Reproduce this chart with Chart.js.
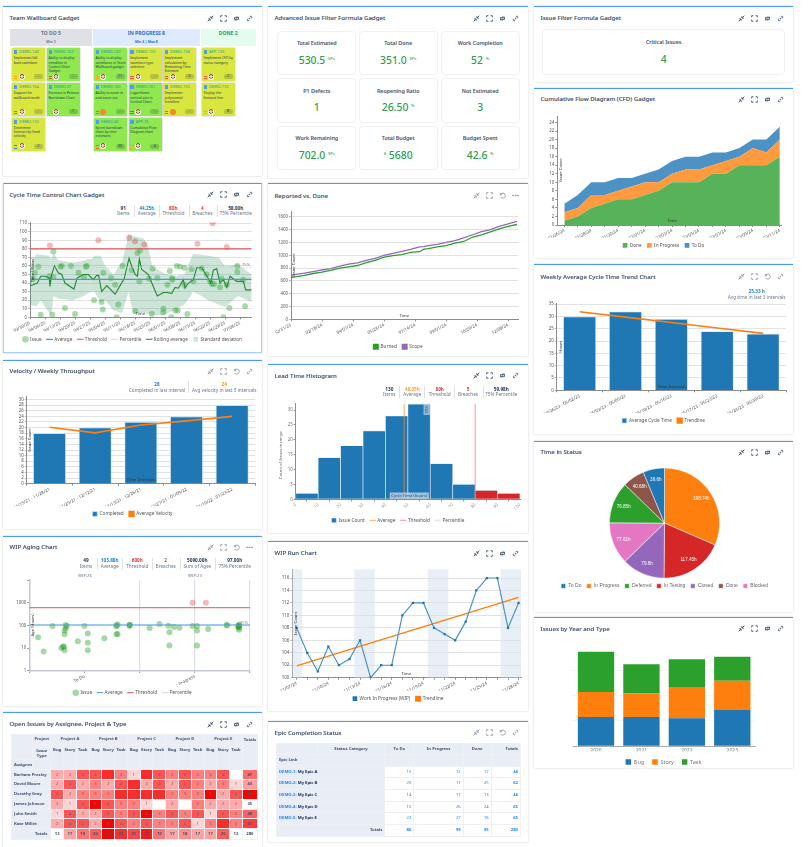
<!DOCTYPE html>
<html>
<head>
<meta charset="utf-8">
<title>Dashboard</title>
<script src="https://cdn.jsdelivr.net/npm/chart.js@4/dist/chart.umd.min.js"></script>
<style>
  html, body { margin: 0; padding: 0; background: #fff; }
  body { position: relative; width: 811px; height: 847px; overflow: hidden; font-family: "Noto Sans", sans-serif; color: #344563; }
  .card { position: absolute; box-sizing: border-box; background: #fff; border-top: 1.5px solid #4c9aff; box-shadow: 0 0 2px rgba(9,30,66,.22); }
  .card.selected { border: 1.5px solid #a9cdfb; border-top: 1.5px solid #4c9aff; }
  .title { position: absolute; font-size: 6.1px; font-weight: 500; line-height: 8px; white-space: nowrap; color: #42526e; -webkit-text-stroke: .12px #42526e; }
  .icons { position: absolute; display: flex; }
  .icons svg { width: 7px; height: 7px; margin-left: 6px; }
  .abs { position: absolute; white-space: nowrap; transform: translateX(-50%); line-height: 1; }
  .sep { position: absolute; width: .6px; background: #dfe1e6; }
  canvas { position: absolute; }
  .tile { position: absolute; box-sizing: border-box; border: .7px solid #f0f1f4; border-radius: 4px; text-align: center; }
  .tile b { position: absolute; left: 0; right: 0; font-size: 5.4px; font-weight: 500; color: #42526e; line-height: 1; -webkit-text-stroke: .1px #42526e; }
  .tile i { position: absolute; left: 0; right: 0; font-style: normal; font-weight: 500; font-size: 10.4px; color: #2f9e50; line-height: 1; }
  .tile sup { font-size: 4.2px; vertical-align: 4px; line-height: 0; }
  .colhead { position: absolute; text-align: center; font-weight: 700; }
  .issue { position: absolute; box-shadow: 0 0 1.5px rgba(0,0,0,.35); width: 33px; height: 32.7px; overflow: hidden; }
  .issue .key { position: absolute; left: 7px; top: 2.2px; font-size: 3.9px; line-height: 4.4px; color: #1f9aa8; }
  .issue .sq { position: absolute; left: 1.5px; top: 2.2px; width: 3.5px; height: 3.5px; background: #4c9aff; border-radius: .5px; }
  .issue .txt { position: absolute; left: 1.5px; right: 1px; top: 8px; font-size: 3.4px; line-height: 4.2px; color: #253858; }
  .issue .pr { position: absolute; left: 1.5px; top: 27.4px; width: 3.5px; height: 1.2px; border-top: .6px solid; border-bottom: .6px solid; }
  .issue .av { position: absolute; left: 6.4px; top: 25.4px; width: 6px; height: 6px; border-radius: 50%; background: radial-gradient(circle at 50% 38%, #f2c7ae 0 1.5px, #7a4a3a 1.7px 2.2px, #f7f7f7 2.4px); }
  .issue .av.p { background: #f08a24; }
  .issue .est { position: absolute; right: 2.5px; top: 26px; width: 9px; height: 4.8px; border-radius: 2px; background: rgba(9,30,66,.18); font-size: 3.6px; line-height: 4.8px; text-align: center; color: #253858; }
  table { position: absolute; border-collapse: collapse; table-layout: fixed; font-size: 4.2px; color: #42526e; line-height: 1; }
  td, th { border: .5px solid #eef0f5; padding: 0; overflow: hidden; }
  th { background: #e9edf5; font-weight: 700; }
</style>
</head>
<body>
<script>
// ---- data ----
const cycleDays = [1.5,2.3,3.9,5,9,9.3,10.4,10.9,10.9,14.3,14.8,16.3,19.1,21,22.6,25.2,26.1,26.4,29.9,31.9,33.4,33.9,34.2,37.8,39.7,40.4,41.2,43.1,46.2,47.4,49,49.1,50.1,51,51.3,53.3,55.5,56.8,57.2,59.4,62.2,62.2,64.1,65.2,65.9,66.3,66.4,67.8,68.4,68.9,70,72,72,73.4,75.4,76.2,78.1,80.1,82.4,84,84.8,85.2,85.8,88.6,89.4,90.2,91.8,91.8,93,96.7,96.7,99.5,100.3];
const cycleHours = [45,52,59,3,48,84,3,77,47,59,60,11,60,4,52,47,59,60,20,90,18,9,52,46,38,0,15,60,93,55,89,7,75,42,78,85,45,4,57,46,10,6,38,54,0,46,44,8,60,8,59,58,38,4,56,42,86,57,50,42,39,110,39,35,45,0,82,38,11,60,53,44,13];
const rollingDays = [0,1.5,3.4,5,7,9,9.3,10.1,11.4,13.2,14.8,16.3,20.5,22,24.9,27.2,29.5,31.1,32,33.4,35.8,39.7,42,43.9,46.2,47.4,49,50.1,51,52.1,55.2,56.8,59.4,62.2,63.8,66.1,67.7,69.2,71.5,72.3,73.9,76.2,77.8,80.1,83.2,84.3,85.5,87.1,88.6,90.2,91.8,93.3,96.4,99.5,100.6,103.4];
const rollingHours = [37,38,40,48,48,46,36,50,60,52,50,40,33,46,50,50,44,49,49,30,37,27,37,45,69,60,50,48,68,56,50,40,25,29,29,28,35,34,44,34,40,44,58,58,45,40,55,57,40,44,35,48,42,42,32,32];
const bandDays = [0,3,5,9,10,11,13,20,25,27,29,30,33,35,39,43,46,48,53,55,57,62,67,72,75,76,80,83,88,91,97,103.4];
const bandUpper = [60,74,73,72,68,75,67,64,66,68,68,72,72,60,50,65,98,95,92,84,60,52,48,50,68,74,73,72,70,60,62,50];
const bandLower = [14,13,20,5,3,25,22,20,25,28,30,30,17,20,8,5,30,5,5,4,3,2,8,15,25,30,25,20,15,12,25,18];
const cycleTicks = ['03/30/25','04/06/25','04/13/25','04/20/25','04/27/25','05/04/25','05/11/25','05/18/25','05/25/25','06/01/25','06/08/25','06/15/25','06/22/25','06/29/25','07/06/25'];
const cycleAverage = 44.25, cycleThreshold = 80, cyclePercentile = 58;

const velocityLabels = ['11/15/21 - 11/28/21','11/29/21 - 12/12/21','12/13/21 - 12/26/21','12/27/21 - 01/09/22','01/10/22 - 01/23/22'];
const velocityDone = [18,20,22,24,28];
const velocityAvg = [20.1,18.1,20.9,22.4,24];

const agingPos = [.08,.13,.21,.29,.31,.31,.32,.33,.34,.33,.32,.32,.44,.5,.53,.53,.53,.68,.79,.8,.79,.8,.79,.91,.91,.91,1.09,1.18,1.26,1.27,1.27,1.31,1.36,1.48,1.52,1.52,1.52,1.48,1.6,1.62,1.79,1.79,1.89,1.9,1.9,1.9,1.9,1.9,1.9];
const agingHours = [30,7,93,10,11,12,8,103,93,74,58,40,20,93,44,17,8,27,41,42,100,110,92,103,93,105,76,114,95,49,13,85,79,93,93,60,13,1000,1000,69,105,98,90,95,85,64,105,100,78];
const agingTicks = [1,10,100,1000,10000];
const agingAverage = 103.88, agingThreshold = 600, agingPercentile = 97;

const reportedWeeks = [0,3,5,7,9,11,13,15,17,19,21,23,25,27,29,30,31,33,35,37,39,41,43,45,47,49,51];
const reportedBurned = [650,685,715,735,765,800,820,840,885,920,970,995,1010,1045,1055,1095,1105,1130,1150,1190,1215,1285,1320,1365,1410,1450,1480];
const reportedScope = [690,720,745,770,790,830,860,880,920,950,1000,1030,1060,1090,1130,1135,1150,1170,1200,1230,1270,1320,1370,1400,1450,1490,1530];
const reportedTicks = ['12/31/23','02/18/24','04/07/24','05/26/24','07/14/24','09/01/24','10/20/24','12/08/24'];

const leadBins = [2,14,18,23,28,32,12,5,3,2];
const leadBinNames = ['0-10','10-20','20-30','30-40','40-50','50-60','60-70','70-80','80-90','90-100'];
const leadAverage = 48.35, leadThreshold = 80, leadPercentile = 59.98;

const runCounts = [108,104,101,105,102,103,106,100,102,102,110,112,112,108,107,106,109,114,116,116,108,112];
const runTrend = [101.9,112.9];
const runTicks = ['11/07/24','11/10/24','11/13/24','11/16/24','11/19/24','11/22/24','11/25/24','11/28/24'];
const runShaded = [[-0.41,0.53],[5.45,7.4],[12.4,14.35],[19.3,21.23]];

const flowTicks = ['01/26/24','01/28/24','01/30/24','02/01/24','02/03/24','02/05/24','02/07/24','02/09/24','02/11/24'];
const flowDone = [1,2,4,5,6,6,7,8,10,10,10,12,12,14,14,14,16];
const flowProgress = [2,2,3,2,2,3,3,2,2,3,3,2,3,2,4,3,4];
const flowTodo = [2,3,3,3,3,2,2,3,3,3,3,3,2,2,2,3,3];

const weeklyLabels = ['04/26/23 - 05/02/23','05/03/23 - 05/09/23','05/10/23 - 05/16/23','05/17/23 - 05/23/23','05/24/23 - 05/30/23'];
const weeklyCycle = [30,32,29,24,23];
const weeklyTrend = [31.9,29.7,27.5,25.3,23.1];

// slices run clockwise from 12 o'clock, the legend has its own order
const statusNames = ['In Progress','In Testing','Closed','Blocked','Deferred','Done','To Do'];
const statusHours = [198.74,117.45,79.6,77.61,76.85,40.68,39.6];
const statusLegendOrder = ['To Do','In Progress','Deferred','In Testing','Closed','Done','Blocked'];

const years = ['2020','2021','2022','2023'];
const yearBug = [23,23,22,29];
const yearStory = [20,19,25,23];
const yearTask = [32,23,22,19];

const assignees = ['Barbara Presley','David Moore','Dorothy Gray','James Johnson','John Smith','Kate Millet'];
const assigneeCounts = [
  [2,2,4,4,5,3,1,5,4,3,4,3,3,4,0],
  [2,4,2,3,2,4,5,2,4,2,4,3,2,3,1],
  [4,2,3,3,3,5,5,5,5,3,3,3,6,2,4],
  [2,1,4,6,4,3,3,1,0,2,0,3,2,2,2],
  [1,4,2,2,4,3,4,6,3,4,3,4,1,4,3],
  [2,4,4,2,6,4,3,4,3,3,4,1,3,5,3]
];
const assigneeTotals = [47,43,56,35,48,51];
const columnTotals = [13,17,19,20,24,22,21,23,19,17,18,17,17,20,13];
const grandTotal = 280;

const epicKeys = ['DEMO-1','DEMO-2','DEMO-3','DEMO-4','DEMO-5'];
const epicNames = ['My Epic A','My Epic B','My Epic C','My Epic D','My Epic E'];
const epicTodo = [15,20,14,15,22];
const epicProgress = [12,17,17,26,27];
const epicDone = [17,25,13,24,16];
const epicTotals = [44,62,44,65,65];
const epicSum = [86,99,95,280];

const boardKeys = ['DEMO-149','DEMO-162','DEMO-164','DEMO-37','DEMO-133','DEMO-147','DEMO-150','DEMO-158','DEMO-160','DEMO-161','DEMO-163','DEMO-40','APP-76','APP-133','DEMO-132'];
const boardSummaries = ['Implement fall-back swimlane','Ability to display trendline in Control Chart Gadget','Support for wallboard mode','Forecast in Release Burndown Chart','Determine forecast by fixed velocity','Ability to display swimlanes in Team Wallboard gadget','Implement swimlane type selection','Implement calculation by Remaining Time Estimate','Ability to zoom in and zoom out','Logarithmic vertical axis in Control Chart','Implement polynomial trendline','Sprint burndown chart by time estimates','Cumulative Flow Diagram chart','Implement CFD by status category','Display the forecast line'];
const boardPriorities = ['medium','high','high','medium','low','medium','high','high','high','low','high','high','medium','high','medium'];
const boardEstimates = ['-','-','-','7','2','11','-','3','-','-','-','30','4','2','8'];
const boardFresh = [false,true,false,true,false,true,false,false,true,true,false,true,true,false,false];
const boardAvatarP = ['DEMO-160','DEMO-163'];

const tileLabels = ['Total Estimated','Total Done','Work Completion','P1 Defects','Reopening Ratio','Not Estimated','Work Remaining','Total Budget','Budget Spent'];
const tileValues = ['530.5','351.0','52','1','26.50','3','702.0','5680','42.6'];
const tilePrefixes = ['','','','','','','','$',''];
const tileSuffixes = ['SPs','SPs','%','','%','','SPs','','%'];

// ---- page helpers ----
const BLUE = '#1f77b4', ORANGE = '#ff7f0e', GREEN = '#2ca02c', RED = '#d62728';
const AXIS_FONT = { family: '"Noto Sans", sans-serif', size: 4.4 };
const statusColors = ['#ff7f0e','#d62728','#9467bd','#e377c2','#2ca02c','#8c564b','#1f77b4'];
const priorityColors = { high: '#ff5630', medium: '#ffab00', low: '#2684ff' };
// where each board card sits, same order as boardKeys
const boardSlots = [[12.3,48.3],[47,48.3],[12.3,83.3],[47,83.3],[12.3,118],[94,48.3],[128.7,48.3],[163.3,48.3],[94,83.3],[128.7,83.3],[163.3,83.3],[94,118],[128.7,118],[202,48.3],[202,83.3]];

function el(tag, cls, parent) {
  const e = document.createElement(tag);
  if (cls) e.className = cls;
  (parent || document.body).appendChild(e);
  return e;
}

const iconPaths = {
  shrink: '<path d="M1 9 L4 6 M1.6 5.6h2.8v2.8 M9 1 L6 4 M8.4 4.4H5.6V1.6" stroke-width="1.3" fill="none"/>',
  full: '<path d="M1 3.4V1h2.4 M6.6 1H9v2.4 M9 6.6V9H6.6 M3.4 9H1V6.6" stroke-width="1.3" fill="none"/>',
  sync: '<path d="M2.2 7.5V3.5h4.6 M5.4 1.8l1.6 1.7L5.4 5.2 M7.8 2.5v4H3.2 M4.6 8.2L3 6.5 4.6 4.8" stroke-width="1.2" fill="none"/>',
  undo: '<path d="M2 4a3.6 3.6 0 1 1 .3 3 M2 1.5V4h2.5" stroke-width="1.2" fill="none"/>',
  link: '<path d="M4 6 6 4 M3.2 5 1.8 6.4a1.4 1.4 0 0 0 1.9 1.9L5 6.8 M5 3.2 6.4 1.8a1.4 1.4 0 0 1 1.9 1.9L6.8 5" stroke-width="1.2" fill="none"/>',
  dots: '<circle cx="1.5" cy="5" r=".8"/><circle cx="5" cy="5" r=".8"/><circle cx="8.5" cy="5" r=".8"/>'
};

function card(x, y, w, h, title, opt) {
  opt = opt || {};
  const c = el('div', 'card' + (opt.selected ? ' selected' : ''));
  c.style.cssText = `left:${x}px;top:${y}px;width:${w}px;height:${h}px`;
  const t = el('div', 'title');
  t.textContent = title;
  t.style.cssText = `left:${x + 6.5}px;top:${y + (opt.titleOff || 8)}px`;
  const ic = el('div', 'icons');
  ic.style.cssText = `right:${811 - (x + w) + 9}px;top:${y + (opt.titleOff || 8) + .5}px`;
  const col = opt.dim ? '#8a93a3' : '#42526e';
  ['shrink', 'full', opt.dim ? 'undo' : 'sync', opt.dots ? 'dots' : 'link'].forEach(n => {
    ic.insertAdjacentHTML('beforeend', `<svg viewBox="0 0 10 10" stroke="${col}" fill="${col}">${iconPaths[n]}</svg>`);
  });
}

function text(x, y, s, size, color, weight) {
  const t = el('div', 'abs');
  t.textContent = s;
  t.style.cssText = `left:${x}px;top:${y - size / 2}px;font-size:${size}px;color:${color};font-weight:${weight || 400}`;
}

function stats(items, seps, yVal, yLab) {
  items.forEach(it => {
    text(it[0], yVal, it[1], 4.7, it[3] || '#253858', 700);
    text(it[0], yLab, it[2], 4.7, '#6b778c');
  });
  seps.forEach(x => {
    const s = el('div', 'sep');
    s.style.cssText = `left:${x}px;top:${yVal - 3}px;height:${yLab - yVal + 6}px`;
  });
}

function tile(x, y, w, h, label, value, prefix, suffix) {
  const d = el('div', 'tile');
  d.style.cssText = `left:${x}px;top:${y}px;width:${w}px;height:${h}px`;
  const b = el('b', '', d);
  b.textContent = label;
  b.style.top = (h / 2 - 12.8) + 'px';
  const i = el('i', '', d);
  i.innerHTML = (prefix ? `<sup>${prefix}</sup> ` : '') + value + (suffix ? ` <sup>${suffix}</sup>` : '');
  i.style.top = (h / 2 + .8) + 'px';
}

// ---- chart helpers ----

// small texts drawn over the chart: axis names, percentile flags
const notesPlugin = {
  id: 'notes',
  afterDraw(chart, args, opts) {
    const ctx = chart.ctx;
    (opts.items || []).forEach(n => {
      ctx.save();
      ctx.translate(n.x - chart.canvas.offsetLeft, n.y - chart.canvas.offsetTop);
      if (n.rot) ctx.rotate(n.rot * Math.PI / 180);
      ctx.font = `${n.size || 4.2}px "Noto Sans", sans-serif`;
      ctx.textAlign = 'center';
      ctx.textBaseline = 'middle';
      if (n.box) {
        const w = ctx.measureText(n.text).width + 3;
        ctx.fillStyle = n.box;
        ctx.fillRect(-w / 2, -3.2, w, 6.4);
      }
      ctx.fillStyle = n.color || '#333';
      ctx.fillText(n.text, 0, 0);
      ctx.restore();
    });
  }
};

// shaded spans behind the run chart
const spansPlugin = {
  id: 'spans',
  beforeDatasetsDraw(chart, args, opts) {
    if (!opts.ranges) return;
    const { ctx, chartArea, scales } = chart;
    ctx.save();
    ctx.fillStyle = opts.color;
    opts.ranges.forEach(r => {
      const a = scales.x.getPixelForValue(r[0]), b = scales.x.getPixelForValue(r[1]);
      ctx.fillRect(a, chartArea.top, b - a, chartArea.bottom - chartArea.top);
    });
    ctx.restore();
  }
};

// value labels inside the pie slices, near the rim
const sliceLabels = {
  id: 'sliceLabels',
  afterDatasetsDraw(chart, args, opts) {
    if (!opts.unit) return;
    const ctx = chart.ctx, meta = chart.getDatasetMeta(0);
    ctx.save();
    ctx.font = '4.6px "Liberation Sans", sans-serif';
    ctx.fillStyle = '#fff';
    ctx.textAlign = 'center';
    ctx.textBaseline = 'middle';
    meta.data.forEach((arc, i) => {
      const mid = (arc.startAngle + arc.endAngle) / 2, r = arc.outerRadius * .8;
      ctx.fillText(chart.data.datasets[0].data[i] + opts.unit, arc.x + Math.cos(mid) * r, arc.y + Math.sin(mid) * r);
    });
    ctx.restore();
  }
};
Chart.register(notesPlugin, spansPlugin, sliceLabels);
Chart.defaults.animation = false;
Chart.defaults.responsive = false;
Chart.defaults.font.family = '"Noto Sans", sans-serif';
Chart.defaults.plugins.tooltip.enabled = false;

function legendOptions(extra) {
  return Object.assign({
    usePointStyle: true, boxHeight: 4.7, padding: 5.5, color: '#555',
    font: { family: '"Noto Sans", sans-serif', size: 4.7 },
    sort: (a, b) => a.datasetIndex - b.datasetIndex
  }, extra || {});
}

// Puts the plot area at a fixed spot inside a canvas that covers [x,y,w,h].
// The legend keeps 10px spare under its row, so the canvas hangs below the card a little.
function plotChart(rect, plot, legendY, cfg) {
  const cv = el('canvas');
  const height = rect[3] + 12;
  cv.width = rect[2]; cv.height = height;
  cv.style.left = rect[0] + 'px'; cv.style.top = rect[1] + 'px';
  const left = plot.l - rect[0], right = rect[0] + rect[2] - plot.r;
  const side = Math.min(left, right);
  const o = cfg.options = cfg.options || {};
  const pl = o.plugins = o.plugins || {};
  const lab = pl.legendLabels || legendOptions();
  const itemH = Math.max(lab.font.size, lab.boxHeight);
  const legendTop = legendY - itemH / 2 - lab.padding;
  o.layout = { autoPadding: false, padding: { left: side, right: side, top: plot.t - rect[1], bottom: rect[1] + height - legendY - itemH / 2 - 10 } };
  pl.legend = { position: 'bottom', labels: lab };
  if (cfg.hideLegendFor) pl.legend.labels.filter = cfg.hideLegendFor;
  delete pl.legendLabels;
  const sc = o.scales || {};
  Object.values(sc).forEach(s => {
    if (s.display === false) return;
    if ((s.axis || '') === 'y') s.afterFit = a => { a.width = left - side; };
    else s.afterFit = a => { a.height = legendTop - plot.b; };
  });
  return new Chart(cv, cfg);
}

function valueTicks(step, color) {
  return { stepSize: step, includeBounds: false, autoSkip: false, font: AXIS_FONT, color: color || '#555', padding: 1, callback: v => String(v) };
}

function valueAxis(extra, dotted) {
  return Object.assign({
    axis: 'y',
    border: { color: '#8d8d8d', width: 1 },
    grid: dotted === false ? { display: true, drawOnChartArea: false, tickLength: 2, tickColor: '#8d8d8d' }
      : { color: '#cfcfcf', borderDash: [1, 1.5], tickBorderDash: [], tickColor: '#8d8d8d', tickLength: 2, lineWidth: .6 }
  }, extra);
}

function timeAxis(extra, labelFn) {
  const a = Object.assign({
    axis: 'x',
    border: { color: '#8d8d8d', width: 1 },
    grid: { drawOnChartArea: false, tickLength: 2, tickColor: '#8d8d8d' },
    ticks: { font: AXIS_FONT, color: '#555', padding: 1, minRotation: 28, maxRotation: 28, autoSkip: false, includeBounds: false }
  }, extra);
  if (labelFn) a.ticks.callback = labelFn;
  return a;
}

function hline(label, value, xMin, xMax, color, width, dash) {
  return { label, data: [{ x: xMin, y: value }, { x: xMax, y: value }], showLine: true, borderColor: color, backgroundColor: color,
    borderWidth: width, borderDash: dash || [], pointRadius: 0, pointStyle: 'line' };
}

function zip(xs, ys) { return xs.map((x, i) => ({ x, y: ys[i] })); }

function barStyle(color) {
  return { backgroundColor: color, borderColor: 'rgba(190,220,245,.9)', borderWidth: .8, pointStyle: 'rect' };
}

// ---- column 1 ----
card(3, 5.5, 259, 170.5, 'Team Wallboard Gadget', { titleOff: 8.5 });
[[10.3,81.4,'#dfe1e6','#6b778c','TO DO 5','Min 3'],[92.7,107.3,'#deebff','#2a6fcf','IN PROGRESS 8','Min 4 | Max 8'],[200.7,55,'#e3fcef','#2c9a66','DONE 2','']].forEach(h => {
  const d = el('div', 'colhead');
  d.style.cssText = `left:${h[0]}px;top:29px;width:${h[1]}px;height:17px;background:${h[2]};color:${h[3]};font-size:5px;line-height:1`;
  d.innerHTML = `<div style="margin-top:2px">${h[4]}</div><div style="font-size:3.4px;margin-top:3.5px;color:${h[3]}">${h[5]}</div>`;
});
boardKeys.forEach((key, i) => {
  const d = el('div', 'issue');
  d.style.cssText = `left:${boardSlots[i][0]}px;top:${boardSlots[i][1]}px;background:${boardFresh[i] ? '#8ee84e' : '#d9e63e'}`;
  d.innerHTML = `<div class="sq"></div><div class="key">${key}</div><div class="txt">${boardSummaries[i]}</div>`
    + `<div class="pr" style="color:${priorityColors[boardPriorities[i]]}"></div><div class="av${boardAvatarP.includes(key) ? ' p' : ''}"></div><div class="est">${boardEstimates[i]}</div>`;
});

card(3, 183, 259, 170, 'Cycle Time Control Chart Gadget', { selected: true, titleOff: 7.7 });
stats([[123.3,'91','Items'],[146.7,'44.25h','Average','#2684d0'],[173.3,'80h','Threshold','#e0393e'],[202.3,'4','Breaches','#e0393e'],[235.7,'58.00h','75% Percentile']], [134.3,159.3,189,216.7], 208, 213.7);
plotChart([3,183,259,170], { l: 30, r: 251.7, t: 222.3, b: 317.3 }, 339.3, {
  type: 'scatter',
  data: { datasets: [
    { label: 'Issue', data: zip(cycleDays, cycleHours), pointRadius: 3, pointStyle: 'circle', borderWidth: 0, order: 1,
      backgroundColor: c => (c.raw && c.raw.y > cycleThreshold) ? 'rgba(214,39,40,.32)' : 'rgba(44,160,44,.4)', pointBorderWidth: 0 },
    Object.assign(hline('Average', cycleAverage, 0, 103.4, '#4a9bd4', 1.2), { order: 0 }),
    Object.assign(hline('Threshold', cycleThreshold, 0, 103.4, '#e0565a', 1.1), { order: 0 }),
    Object.assign(hline('Percentile', cyclePercentile, 0, 103.4, '#cccccc', .7, [1.5, 1.5]), { order: 0 }),
    { label: 'Rolling average', data: zip(rollingDays, rollingHours), showLine: true, borderColor: '#1f8a2e', backgroundColor: '#1f8a2e', borderWidth: 1.1, pointRadius: 0, pointStyle: 'line', order: 0 },
    { label: 'Standard deviation', data: zip(bandDays, bandUpper), showLine: true, fill: '+1', borderWidth: 0, borderColor: 'transparent', backgroundColor: 'rgba(60,150,110,.26)', pointRadius: 0, pointStyle: 'rect', order: 3 },
    { label: 'band lower', data: zip(bandDays, bandLower), showLine: true, borderWidth: 0, borderColor: 'transparent', pointRadius: 0, order: 3 }
  ] },
  hideLegendFor: i => i.text !== 'band lower',
  options: {
    scales: {
      x: timeAxis({ type: 'linear', min: 0, max: 103.4, ticks: Object.assign({ stepSize: 7 }, timeAxis({}).ticks) }, v => cycleTicks[v / 7] || ''),
      y: valueAxis({ min: 0, max: 111, ticks: valueTicks(10) })
    },
    plugins: { notes: { items: [
      { text: 'Time (Hours)', x: 33.3, y: 270, rot: -90 }, { text: 'Time', x: 140.3, y: 314 }, { text: '75%', x: 246, y: 265, color: '#888', size: 4 }
    ] } }
  }
});

card(3, 360, 259, 169, 'Velocity / Weekly Throughput', { dim: true, titleOff: 7.3 });
text(157, 384.3, '28', 4.7, '#2684d0', 700);
text(157, 390, 'Completed in last interval', 4.7, '#6b778c');
text(224.3, 384.3, '24', 4.7, '#ff8b1f', 700);
text(224.3, 390, 'Avg velocity in last 5 intervals', 4.7, '#6b778c');
{ const s = el('div', 'sep'); s.style.cssText = 'left:188.3px;top:381px;height:12px'; }
plotChart([3,360,259,169], { l: 26.7, r: 255, t: 396.7, b: 483.7 }, 514, {
  type: 'bar',
  data: { labels: velocityLabels, datasets: [
    Object.assign({ label: 'Completed', data: velocityDone, order: 2, barPercentage: 1, categoryPercentage: .72 }, barStyle(BLUE)),
    { type: 'line', label: 'Average Velocity', data: velocityAvg, borderColor: ORANGE, backgroundColor: ORANGE, borderWidth: 1.6, pointRadius: 0, pointStyle: 'rect', order: 1 }
  ] },
  options: {
    scales: {
      x: timeAxis({ type: 'category' }),
      y: valueAxis({ min: 0, max: 31, ticks: valueTicks(2) })
    },
    plugins: { notes: { items: [{ text: 'Issue Count', x: 30, y: 440, rot: -90 }, { text: 'Time Intervals', x: 140.7, y: 480.3 }] } }
  }
});

card(3, 536, 259, 170, 'WIP Aging Chart', { dim: true, dots: true, titleOff: 7.3 });
stats([[86,'49','Items'],[109.7,'103.88h','Average','#2684d0'],[137.3,'600h','Threshold','#e0393e'],[165.7,'2','Breaches','#e0393e'],[197.3,'5090.00h','Sum of Ages'],[234.7,'97.00h','75% Percentile']], [96.7,122.3,152.3,180,215], 560.7, 566.7);
plotChart([3,536,259,170], { l: 29.3, r: 250, t: 580, b: 670.7 }, 692.7, {
  type: 'scatter',
  data: { datasets: [
    { label: 'Issue', data: zip(agingPos, agingHours), pointRadius: 3, pointStyle: 'circle', pointBorderWidth: 0, order: 1,
      backgroundColor: c => (c.raw && c.raw.y > agingThreshold) ? 'rgba(214,39,40,.32)' : 'rgba(44,160,44,.42)' },
    Object.assign(hline('Average', agingAverage, 0, 2, '#4a9bd4', 1), { order: 0 }),
    Object.assign(hline('Threshold', agingThreshold, 0, 2, '#e0565a', 1), { order: 0 }),
    Object.assign(hline('Percentile', agingPercentile, 0, 2, '#cccccc', .7, [1.5, 1.5]), { order: 0 })
  ] },
  options: {
    scales: {
      x: timeAxis({
        type: 'linear', min: 0, max: 2,
        border: { color: '#c3c8d2', width: 1.5 },
        grid: { color: c => (c.tick && c.tick.value >= 1) ? '#dcdfe4' : 'transparent', lineWidth: 1.2, tickLength: 2, tickColor: '#8d8d8d' },
        ticks: Object.assign({ stepSize: .5 }, timeAxis({}).ticks)
      }, v => v === .5 ? 'To Do' : v === 1.5 ? 'In Progress' : ''),
      y: valueAxis({
        type: 'logarithmic', min: 1, max: 10000,
        border: { color: '#c3c8d2', width: 1.5 },
        afterBuildTicks: a => { a.ticks = agingTicks.map(value => ({ value })); },
        ticks: { font: AXIS_FONT, color: '#555', padding: 1, autoSkip: false, callback: v => v < 10000 ? String(v) : '' }
      }, false)
    },
    plugins: { notes: { items: [
      { text: 'Age (Hours)', x: 33, y: 625, rot: -90 }, { text: 'WIP:26', x: 85, y: 576.3, color: '#6b778c' },
      { text: 'WIP:23', x: 195, y: 576.3, color: '#6b778c' }, { text: '75%', x: 244, y: 622.7, color: '#888', size: 4 }
    ] } }
  }
});

card(3, 712, 259, 140, 'Open Issues by Assignee, Project & Type', { titleOff: 8 });
(function assigneeTable() {
  const types = ['Bug', 'Story', 'Task'], projects = ['A', 'B', 'C', 'D', 'E'];
  const heat = (v, lo, hi) => `rgba(255,0,0,${Math.max(0, (v - lo) / (hi - lo)).toFixed(2)})`;
  let h = '<colgroup><col style="width:21.3px"><col style="width:18px">' + '<col style="width:12.78px">'.repeat(15) + '<col style="width:15px"></colgroup>';
  h += '<tr style="height:10px"><th rowspan="2"></th><th>Project</th>' + projects.map(p => `<th colspan="3">Project ${p}</th>`).join('') + '<th rowspan="3" style="vertical-align:top;padding-top:3px">Totals</th></tr>';
  h += '<tr style="height:15.3px"><th style="vertical-align:top;padding-top:3px;line-height:5px">Issue<br>Type</th>' + projects.map(() => types.map(t => `<th rowspan="2" style="vertical-align:top;padding-top:3px">${t}</th>`).join('')).join('') + '</tr>';
  h += '<tr style="height:10px"><th style="text-align:left;padding-left:2px">Assignee</th><th></th></tr>';
  assignees.forEach((a, i) => {
    h += `<tr style="height:9.84px"><th colspan="2" style="text-align:left;padding-left:2px">${a}</th>`;
    assigneeCounts[i].forEach(v => { h += `<td style="text-align:center;background:${heat(v, 0, 6)};color:#666">${v || ''}</td>`; });
    h += `<td style="text-align:center;background:${heat(assigneeTotals[i], 35, 56)};font-weight:700">${assigneeTotals[i]}</td></tr>`;
  });
  h += '<tr style="height:10.7px"><th colspan="2" style="text-align:right;padding-right:3px">Totals</th>';
  columnTotals.forEach(v => { h += `<td style="text-align:center;background:${heat(v, 13, 24)};font-weight:700">${v}</td>`; });
  h += `<td style="text-align:center;font-weight:700">${grandTotal}</td></tr>`;
  const t = el('table');
  t.style.cssText = 'left:11px;top:734px;width:245.7px';
  t.innerHTML = h;
})();

// ---- column 2 ----
card(268, 5.5, 260, 172.5, 'Advanced Issue Filter Formula Gadget', { titleOff: 8.5 });
tileLabels.forEach((label, i) => {
  tile(265 + [12.3, 93.7, 175.7][i % 3], [30.7, 78.3, 125.7][Math.floor(i / 3)], 79, 44.3, label, tileValues[i], tilePrefixes[i], tileSuffixes[i]);
});

card(268, 183, 260, 173, 'Reported vs. Done', { dim: true, dots: true, titleOff: 8.7 });
plotChart([268,183,260,173], { l: 291, r: 518.3, t: 211.7, b: 319.3 }, 346.7, {
  type: 'scatter',
  data: { datasets: [
    { label: 'Burned', data: zip(reportedWeeks, reportedBurned), showLine: true, borderColor: GREEN, backgroundColor: GREEN, borderWidth: 1.3, pointRadius: 0, pointStyle: 'rect' },
    { label: 'Scope', data: zip(reportedWeeks, reportedScope), showLine: true, borderColor: '#9467bd', backgroundColor: '#9467bd', borderWidth: 1.3, pointRadius: 0, pointStyle: 'rect' }
  ] },
  options: {
    scales: {
      x: timeAxis({ type: 'linear', min: 0, max: 51.3, ticks: Object.assign({ stepSize: 7 }, timeAxis({}).ticks) }, v => reportedTicks[v / 7] || ''),
      y: valueAxis({ min: 0, max: 1680, ticks: valueTicks(200) })
    },
    plugins: { notes: { items: [{ text: 'Issue Count', x: 294.3, y: 265, rot: -90 }, { text: 'Time', x: 404.3, y: 315.7 }] } }
  }
});

card(268, 363.5, 260, 169.5, 'Lead Time Histogram', { titleOff: 8.2 });
stats([[389.3,'130','Items'],[412.3,'48.35h','Average','#ff9f43'],[439.7,'80h','Threshold','#e0393e'],[468,'5','Breaches','#e0393e'],[501.3,'59.98h','75% Percentile']], [399.3,424.3,454,482.7], 389, 394.7);
plotChart([268,363.5,260,169.5], { l: 295.7, r: 520, t: 403.3, b: 499.3 }, 520.3, {
  type: 'bar',
  data: { labels: leadBinNames, datasets: [
    { label: 'Issue Count', data: leadBins, barPercentage: 1, categoryPercentage: 1, grouped: false, order: 2, pointStyle: 'rect',
      backgroundColor: c => c.dataIndex >= 8 ? RED : BLUE, borderColor: 'rgba(210,230,245,.9)', borderWidth: .7 },
    { type: 'line', label: 'Average', xAxisID: 'x2', data: [{ x: leadAverage, y: 0 }, { x: leadAverage, y: 32.1 }], borderColor: 'rgba(255,140,40,.75)', backgroundColor: 'rgba(255,140,40,.75)', borderWidth: 1, pointRadius: 0, pointStyle: 'line', order: 1 },
    { type: 'line', label: 'Threshold', xAxisID: 'x2', data: [{ x: leadThreshold, y: 0 }, { x: leadThreshold, y: 32.1 }], borderColor: 'rgba(224,70,80,.55)', backgroundColor: 'rgba(224,70,80,.55)', borderWidth: 1, pointRadius: 0, pointStyle: 'line', order: 1 },
    { type: 'line', label: 'Percentile', xAxisID: 'x2', data: [{ x: leadPercentile, y: 0 }, { x: leadPercentile, y: 32.1 }], borderColor: 'rgba(170,170,170,.6)', backgroundColor: 'rgba(170,170,170,.6)', borderWidth: .7, borderDash: [1.5, 1.5], pointRadius: 0, pointStyle: 'line', order: 1 }
  ] },
  options: {
    scales: {
      x: { display: false, offset: true },
      x2: timeAxis({ type: 'linear', position: 'bottom', offset: false, min: 0, max: 100, ticks: Object.assign({ stepSize: 10 }, timeAxis({}).ticks, { minRotation: 45, maxRotation: 45, color: '#999' }) }),
      y: valueAxis({ min: 0, max: 32.1, ticks: valueTicks(5, '#777') }, false)
    },
    plugins: { notes: { items: [
      { text: 'Count of Issues in range', x: 281, y: 455, rot: -90, color: '#666' },
      { text: 'Cycle Time (hours)', x: 409.3, y: 495.7, box: 'rgba(190,215,235,.8)', color: '#445' },
      { text: '75%', x: 426.7, y: 409.3, rot: -90, box: 'rgba(190,215,235,.7)', color: '#445' }
    ] } }
  }
});

card(268, 541, 260, 170, 'WIP Run Chart', { titleOff: 8 });
plotChart([268,541,260,170], { l: 292.3, r: 521, t: 569.3, b: 677.7 }, 698.7, {
  type: 'scatter',
  data: { datasets: [
    { label: 'Work In Progress (WIP)', data: runCounts.map((y, x) => ({ x, y })), showLine: true, borderColor: '#4a93c5', backgroundColor: BLUE, borderWidth: 1.2, pointRadius: 1.6, pointStyle: 'rect', pointBorderWidth: 0 },
    { label: 'Trendline', data: [{ x: 0, y: runTrend[0] }, { x: 21, y: runTrend[1] }], showLine: true, borderColor: ORANGE, backgroundColor: ORANGE, borderWidth: 1.4, pointRadius: 0, pointStyle: 'rect' }
  ] },
  options: {
    scales: {
      x: timeAxis({ type: 'linear', min: -0.41, max: 21.23, ticks: Object.assign({ stepSize: 1 }, timeAxis({}).ticks) }, v => v % 3 === 0 ? (runTicks[v / 3] || '') : ''),
      y: valueAxis({ min: 100, max: 117.4, ticks: valueTicks(2) })
    },
    plugins: {
      spans: { ranges: runShaded, color: 'rgba(215,226,240,.55)' },
      notes: { items: [{ text: 'Issue Count', x: 295.7, y: 623.3, rot: -90 }, { text: 'Time', x: 406.3, y: 674.3 }] }
    }
  }
});

card(268, 720.5, 260, 121.5, 'Epic Completion Status', { dim: true, titleOff: 8.2 });
(function epicTable() {
  const link = '#2684ff';
  let h = '<colgroup><col style="width:40.7px"><col style="width:67.7px"><col style="width:29px"><col style="width:49.3px"><col style="width:28px"><col style="width:29.3px"></colgroup>';
  h += '<tr style="height:11px"><th></th><th>Status Category</th><th>To Do</th><th>In Progress</th><th>Done</th><th style="text-align:right;padding-right:2px">Totals</th></tr>';
  h += '<tr style="height:11.3px"><th style="text-align:left;padding-left:2px">Epic Link</th><th></th><th></th><th></th><th></th><th></th></tr>';
  epicKeys.forEach((key, i) => {
    h += `<tr style="height:11.67px"><th colspan="2" style="text-align:left;padding-left:2px"><span style="color:${link}">${key}:</span> <span style="color:#172b4d">${epicNames[i]}</span></th>`;
    [epicTodo[i], epicProgress[i], epicDone[i]].forEach(v => { h += `<td style="text-align:right;padding-right:2px;color:${link};font-weight:400">${v}</td>`; });
    h += `<td style="text-align:right;padding-right:2px;color:${link};font-weight:700">${epicTotals[i]}</td></tr>`;
  });
  h += '<tr style="height:11.67px"><th colspan="2" style="text-align:right;padding-right:2px">Totals</th>';
  epicSum.forEach(v => { h += `<td style="text-align:right;padding-right:2px;color:${link};font-weight:700">${v}</td>`; });
  h += '</tr>';
  const t = el('table');
  t.style.cssText = 'left:276px;top:743.3px;width:244px';
  t.innerHTML = h;
})();

// ---- column 3 ----
card(534, 5.5, 259, 76.5, 'Issue Filter Formula Gadget', { titleOff: 8.5 });
tile(542.3, 29.3, 242.7, 45.3, 'Critical Issues', '4', '', '');

card(534, 87.5, 259, 170.5, 'Cumulative Flow Diagram (CFD) Gadget', { titleOff: 7.8 });
plotChart([534,87.5,259,170.5], { l: 557.3, r: 781.7, t: 116, b: 225 }, 245.3, {
  type: 'line',
  data: { datasets: [
    { label: 'Done', data: flowDone.map((y, x) => ({ x, y })), fill: 'origin', borderWidth: 0, borderColor: 'transparent', backgroundColor: '#58b25a', pointRadius: 0, pointStyle: 'rect', stack: 'flow' },
    { label: 'In Progress', data: flowProgress.map((y, x) => ({ x, y })), fill: '-1', borderWidth: 0, borderColor: 'transparent', backgroundColor: '#ff9a3f', pointRadius: 0, pointStyle: 'rect', stack: 'flow' },
    { label: 'To Do', data: flowTodo.map((y, x) => ({ x, y })), fill: '-1', borderWidth: 0, borderColor: 'transparent', backgroundColor: '#4d92c4', pointRadius: 0, pointStyle: 'rect', stack: 'flow' }
  ] },
  options: {
    scales: {
      x: timeAxis({ type: 'linear', min: -0.52, max: 16.14, ticks: Object.assign({ stepSize: 1 }, timeAxis({}).ticks) }, v => v % 2 === 0 ? (flowTicks[v / 2] || '') : ''),
      y: valueAxis({ stacked: true, min: 0, max: 25.4, ticks: valueTicks(2) }, false)
    },
    plugins: { notes: { items: [{ text: 'Issue Count', x: 561.3, y: 170, rot: -90 }, { text: 'Time', x: 672, y: 221.3 }] } }
  }
});

card(534, 264, 259, 170, 'Weekly Average Cycle Time Trend Chart', { dim: true, titleOff: 8.7 });
text(756.7, 291.3, '25.33 h', 4.7, '#2684d0', 700);
text(756.7, 297.3, 'Avg time in last 3 intervals', 4.7, '#6b778c');
plotChart([534,264,259,170], { l: 556.7, r: 786, t: 303.3, b: 390.3 }, 420.7, {
  type: 'bar',
  data: { labels: weeklyLabels, datasets: [
    Object.assign({ label: 'Average Cycle Time', data: weeklyCycle, order: 2, barPercentage: 1, categoryPercentage: .72 }, barStyle(BLUE)),
    { type: 'line', label: 'Trendline', data: weeklyTrend, borderColor: ORANGE, backgroundColor: ORANGE, borderWidth: 1.6, pointRadius: 0, pointStyle: 'rect', order: 1 }
  ] },
  options: {
    scales: {
      x: timeAxis({ type: 'category' }),
      y: valueAxis({ min: 0, max: 35.3, ticks: valueTicks(5) })
    },
    plugins: { notes: { items: [{ text: 'Hours', x: 560.7, y: 346.7, rot: -90 }, { text: 'Time Intervals', x: 671.7, y: 387 }] } }
  }
});

card(534, 441, 259, 171, 'Time in Status', { titleOff: 7.3 });
{
  const pieLab = legendOptions({ sort: (a, b) => statusLegendOrder.indexOf(a.text) - statusLegendOrder.indexOf(b.text), padding: 5, boxHeight: 4.5, color: '#666', font: { family: '"Liberation Sans", sans-serif', size: 5 } });
  const cv = el('canvas');
  cv.width = 259; cv.height = 183;
  cv.style.left = '534.8px'; cv.style.top = '441px';
  new Chart(cv, {
    type: 'pie',
    data: { labels: statusNames, datasets: [{ data: statusHours, backgroundColor: statusColors, borderColor: 'rgba(255,255,255,.8)', borderWidth: .6, pointStyle: 'rect' }] },
    options: {
      layout: { autoPadding: false, padding: { top: 26.7, bottom: 25.5 } },
      plugins: { legend: { position: 'bottom', labels: Object.assign(pieLab, { generateLabels: c => Chart.overrides.pie.plugins.legend.labels.generateLabels(c).map(l => Object.assign(l, { pointStyle: 'rect' })) }) }, sliceLabels: { unit: 'h' } }
    }
  });
}

card(534, 617, 259, 151, 'Issues by Year and Type', { titleOff: 7.7 });
plotChart([534,617,259,151], { l: 573.3, r: 755, t: 650.5, b: 746 }, 762, {
  type: 'bar',
  data: { labels: years, datasets: [
    { label: 'Bug', data: yearBug, backgroundColor: BLUE, pointStyle: 'rect', stack: 'y', barPercentage: 1, categoryPercentage: .8 },
    { label: 'Story', data: yearStory, backgroundColor: ORANGE, pointStyle: 'rect', stack: 'y', barPercentage: 1, categoryPercentage: .8 },
    { label: 'Task', data: yearTask, backgroundColor: GREEN, pointStyle: 'rect', stack: 'y', barPercentage: 1, categoryPercentage: .8 }
  ] },
  options: {
    plugins: { legendLabels: legendOptions({ padding: 8, boxHeight: 5.5, color: '#777', font: { family: '"Noto Sans", sans-serif', size: 5.5 } }) },
    scales: {
      x: { axis: 'x', stacked: true, border: { color: '#aaa' }, grid: { drawOnChartArea: false, drawTicks: false }, ticks: { font: { size: 5 }, color: '#777', padding: 1.5 } },
      y: { axis: 'y', stacked: true, min: 0, max: 76, border: { display: false }, grid: { color: '#f0f0f0', tickLength: 2, lineWidth: .6 }, ticks: { stepSize: 20, includeBounds: false, font: { size: 5.5 }, color: '#777', padding: 1 } }
    }
  }
});
</script>
</body>
</html>
